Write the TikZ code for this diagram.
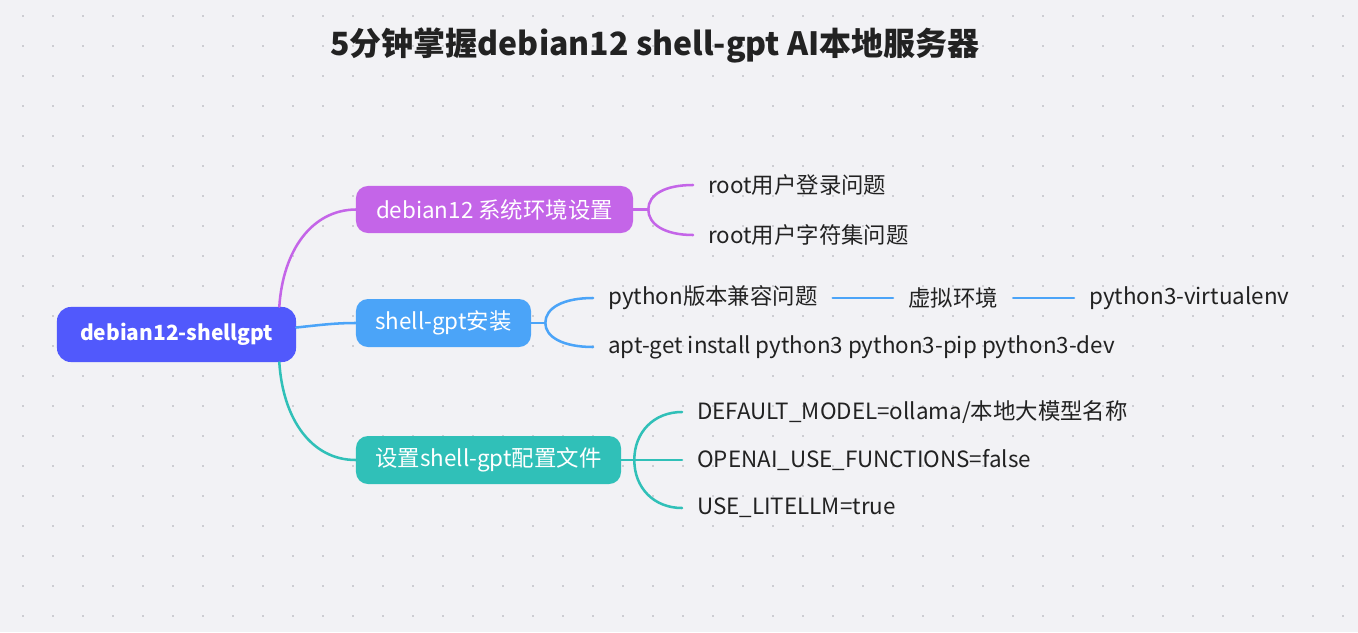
\documentclass[tikz,border=0pt]{standalone}
\usepackage{fontspec}
\setmainfont{Noto Sans CJK SC}
\usetikzlibrary{positioning,calc}

\definecolor{bgcol}{HTML}{F2F2F5}
\definecolor{dotcol}{HTML}{CDCDD2}
\definecolor{textcol}{HTML}{222222}
\definecolor{rootcol}{HTML}{5159FC}
\definecolor{sysc}{HTML}{C465E8}
\definecolor{gptc}{HTML}{4BA4F8}
\definecolor{cfgc}{HTML}{30C0B8}

\begin{document}
\begin{tikzpicture}[
		x=0.75pt,y=-0.75pt,
		every node/.style={font=\fontsize{16.8}{20}\selectfont, text=textcol},
		rootbox/.style={fill=rootcol, rounded corners=10.5pt, text=white,
			font=\fontsize{15.7}{19}\selectfont\bfseries,
			minimum width=179.3pt, minimum height=41.3pt},
		branchbox/.style={rounded corners=9pt, text=white,
			minimum height=36pt},
		leaf/.style={anchor=west, inner xsep=11.25pt, inner ysep=0pt},
		link/.style={line width=1.9pt, line cap=round}
		]
		
		% =========================
		% background with dot grid
		% =========================
		\fill[bgcol] (0,0) rectangle (1358,632);
		\useasboundingbox (0,0) rectangle (1358,632);
		\foreach \i in {0,...,44}
		\foreach \j in {0,...,20}
		\fill[dotcol] (21.8+30*\i,14.8+30*\j) rectangle ++(2.4,2.4);
		
		% title
		\node[font=\fontsize{24}{29}\selectfont\bfseries] (title) at (655,45)
		{5分钟掌握debian12 shell-gpt AI本地服务器};
		
		% =========================
		% root and branches
		% =========================
		\node[rootbox] (root) at (176.5,334.5) {debian12-shellgpt};
		
		\node[branchbox, fill=sysc, minimum width=207.8pt, minimum height=35.3pt]
		(sys) at (494.5,209.5) {debian12 系统环境设置};
		\node[branchbox, fill=gptc, minimum width=131.3pt] (gpt) at (443.5,323) {shell-gpt安装};
		\node[branchbox, fill=cfgc, minimum width=198.8pt] (cfg) at (488.5,460) {设置shell-gpt配置文件};
		
		\draw[link, sysc] ([shift={(-17,0)}]root.north east)
		.. controls (283,250) and (312,210) .. (sys.west);
		\draw[link, gptc] ([shift={(0,-7)}]root.east)
		.. controls (320,325) and (335,323) .. (gpt.west);
		\draw[link, cfgc] ([shift={(-17,0)}]root.south east)
		.. controls (283,420) and (312,460) .. (cfg.west);
		
		% =========================
		% leaves
		% =========================
		\node[leaf] (login) at (693,185) {root用户登录问题};
		\node[leaf] (charset) at (693,235) {root用户字符集问题};
		
		\node[leaf] (pyver) at (593,298) {python版本兼容问题};
		\node[leaf] (venv) at (893,298) {虚拟环境};
		\node[leaf] (venvpkg) at (1074,298) {python3-virtualenv};
		\node[leaf] (aptget) at (593,347) {apt-get install python3 python3-pip python3-dev};
		
		\node[leaf] (model) at (682,412) {DEFAULT\_MODEL=ollama/本地大模型名称};
		\node[leaf] (funcs) at (682,460) {OPENAI\_USE\_FUNCTIONS=false};
		\node[leaf] (litellm) at (682,508) {USE\_LITELLM=true};
		
		% split points
		\coordinate (jsys) at ([shift={(15,0)}]sys.east);
		\coordinate (jgpt) at ([shift={(14,0)}]gpt.east);
		\coordinate (jcfg) at ([shift={(13,0)}]cfg.east);
		
		\draw[link, sysc] (sys.east) -- (jsys);
		\draw[link, sysc] (jsys) .. controls ([shift={(0,-15)}]jsys) and ([shift={(-28,0)}]login.west) .. (login.west);
		\draw[link, sysc] (jsys) .. controls ([shift={(0,15)}]jsys) and ([shift={(-28,0)}]charset.west) .. (charset.west);
		
		\draw[link, gptc] (gpt.east) -- (jgpt);
		\draw[link, gptc] (jgpt) .. controls ([shift={(0,-15)}]jgpt) and ([shift={(-30,0)}]pyver.west) .. (pyver.west);
		\draw[link, gptc] (jgpt) .. controls ([shift={(0,14)}]jgpt) and ([shift={(-30,0)}]aptget.west) .. (aptget.west);
		\draw[link, gptc] (pyver.east) -- (venv.west);
		\draw[link, gptc] (venv.east) -- (venvpkg.west);
		
		\draw[link, cfgc] (cfg.east) -- (jcfg);
		\draw[link, cfgc] (jcfg) .. controls ([shift={(0,-28)}]jcfg) and ([shift={(-28,0)}]model.west) .. (model.west);
		\draw[link, cfgc] (jcfg) -- (funcs.west);
		\draw[link, cfgc] (jcfg) .. controls ([shift={(0,28)}]jcfg) and ([shift={(-28,0)}]litellm.west) .. (litellm.west);
		
	\end{tikzpicture}
\end{document}
